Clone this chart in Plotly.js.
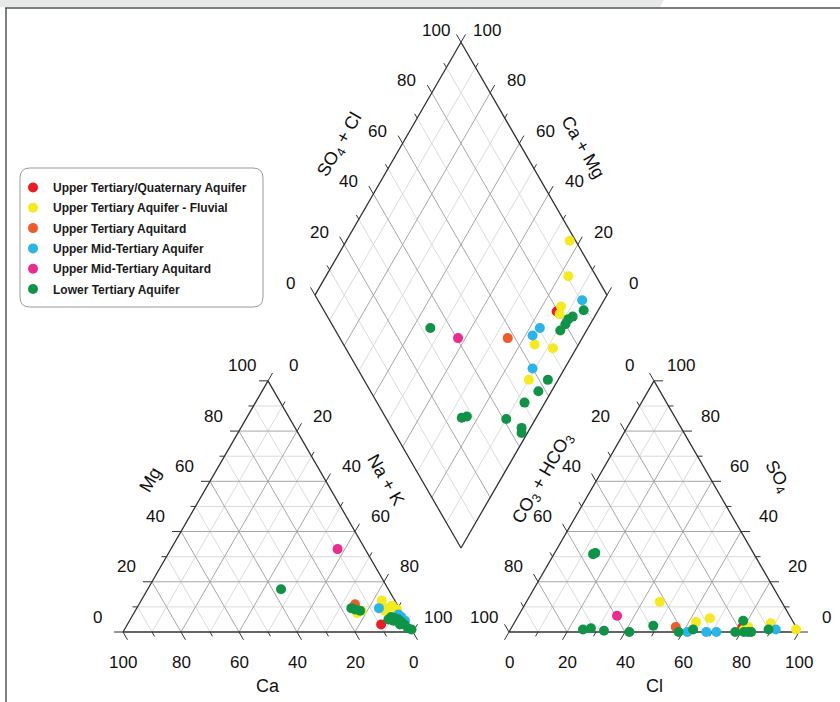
<!DOCTYPE html>
<html><head><meta charset="utf-8">
<script src="https://cdn.plot.ly/plotly-3.0.1.min.js"></script>
<style>html,body{margin:0;padding:0;background:#fff}#chart{width:840px;height:702px}</style>
</head><body><div id="chart"></div>
<script>
// ---------------- DATA ----------------
const seriesNames = ["Upper Tertiary/Quaternary Aquifer","Upper Tertiary Aquifer - Fluvial","Upper Tertiary Aquitard","Upper Mid-Tertiary Aquifer","Upper Mid-Tertiary Aquitard","Lower Tertiary Aquifer"];
const seriesColors = ["#ed1c24","#f5ea1c","#f15a29","#29b5e8","#ec2a8f","#0f9447"];
const tickValues = [0,20,40,60,80,100];

// Cation triangle (% meq): Ca, Mg, Na+K
const cationSeries = [0, 1,1,1,1,1,1,1, 2, 3,3,3,3, 4, 5,5,5,5,5,5,5,5,5,5,5,5,5,5];
const cationCa  = [9.5, 13.5,4.5,4,1,2,5.5,15.5, 14.5, 7,1.5,1,0.5, 9.5, 37,16.5,15.5,14,4.5,3.5,2.5,2,1.5,1,0,4.5,3,6];
const cationMg  = [3, 8.5,12.5,9.5,9,10.5,8.5,7.5, 11, 9.5,7,6,4.5, 33, 17,9.5,9,8.5,6,5.5,5,4,3,1.5,1,4.5,3,5];
const cationNaK = [87.5, 78,83,86.5,90,87.5,86,77, 74.5, 83.5,91.5,93,95, 57.5, 46,74,75.5,77.5,89.5,91,92.5,94,95.5,97.5,99,91,94,89];

// Anion triangle (% meq): CO3+HCO3, SO4, Cl
const anionSeries = [0, 1,1,1,1,1,1,1, 2, 3,3,3,3, 4, 5,5,5,5,5,5,5,5,5,5,5,5,5,5,5];
const anionHCO3 = [18.5, 42,33.5,28,16.5,8,0.5,18.5, 41.5, 38.5,32,28.5,7.5, 59.5, 74,71,67,58.5,49,41.5,36,22,17,19,17.5,16.5,10,55.5,54.5];
const anionSO4  = [2, 12,4,5.5,2,3.5,1,1, 2, 0,0,0,1, 6.5, 1,1.5,0.5,0,2.5,0,1,0,4.5,0,0,0,1,31,31.5];
const anionCl   = [79.5, 46,62.5,66.5,81.5,88.5,98.5,80.5, 56.5, 61.5,68,71.5,91.5, 34, 25,27.5,32.5,41.5,48.5,58.5,63,78,78.5,81,82.5,83.5,89,13.5,14];

// Diamond (%): Ca+Mg, SO4+Cl
const diamondSeries = [0, 1,1,1,1,1,1,1, 2, 3,3,3,3, 4, 5,5,5,5,5,5,5,5,5,5,5,5,5,5];
const diamondCaMg  = [14, 23.5,17,13.5,12.5,15,8,10, 25.5, 7.5,16.5,17.5,11, 42.5, 5,8.5,8.5,9,54,3.5,4.5,7,25.5,24,10,3,2,7.5];
const diamondSO4Cl = [79.5, 98,90.5,82,80,65.5,71,56.5, 57.5, 90.5,70.5,66.5,60, 40.5, 89,82,80,77,33,63,57.5,50.5,26,28,41,44.5,43.5,84];

// ---------------- GEOMETRY ----------------
const FONT = "Arial, 'Liberation Sans', sans-serif";
const SIDE = 290, HT = SIDE*Math.sqrt(3)/2;
function makeTri(x0,y0){ return {A:[x0,y0], B:[x0+SIDE/2,y0-HT], C:[x0+SIDE,y0]}; }
const triLeft = makeTri(123,632);   // A=Ca, B=Mg, C=Na+K
const triRight = makeTri(509,632);  // A=CO3+HCO3, B=SO4, C=Cl
function tern(T,a,b,c){ const s=a+b+c; return [(T.A[0]*a+T.B[0]*b+T.C[0]*c)/s,(T.A[1]*a+T.B[1]*b+T.C[1]*c)/s]; }
const DSIDE = 292, DH = DSIDE*Math.sqrt(3)/2;
const DB = [461,548], DL=[DB[0]-DSIDE/2,DB[1]-DH], DR=[DB[0]+DSIDE/2,DB[1]-DH], DT=[DB[0],DB[1]-2*DH];
function dia(c,s){ return [DB[0]+s/100*(DR[0]-DB[0])+c/100*(DL[0]-DB[0]), DB[1]+s/100*(DR[1]-DB[1])+c/100*(DL[1]-DB[1])]; }

const minor={x:[],y:[]}, major={x:[],y:[]}, edges={x:[],y:[]}, ticks={x:[],y:[]};
function seg(o,p,q){ o.x.push(p[0],q[0],null); o.y.push(p[1],q[1],null); }
function poly(o,pts){ pts.forEach(p=>{o.x.push(p[0]);o.y.push(p[1]);}); o.x.push(null); o.y.push(null); }

function triGrid(T){
  for(let v=10; v<100; v+=10){
    const g = (v%20===0)?major:minor;
    seg(g, tern(T,v,0,100-v), tern(T,v,100-v,0));
    seg(g, tern(T,100-v,v,0), tern(T,0,v,100-v));
    seg(g, tern(T,100-v,0,v), tern(T,0,100-v,v));
  }
  poly(edges,[T.A,T.B,T.C,T.A]);
}
triGrid(triLeft); triGrid(triRight);
for(let v=10; v<100; v+=10){
  const g = (v%20===0)?major:minor;
  seg(g, dia(0,v), dia(100,v));
  seg(g, dia(v,0), dia(v,100));
}
poly(edges,[DB,DR,DT,DL,DB]);

const annotations = [];
function label(x,y,text,size,angle){
  annotations.push({x:x,y:y,xref:'x',yref:'y',text:text,showarrow:false,xanchor:'center',yanchor:'middle',
    textangle:angle||0,font:{family:FONT,size:size,color:'#111'}});
}
function axisTicks(pointFn, dir, off){
  for(let v=0; v<=100; v+=10){
    const p = pointFn(v), len = (v%20===0)?9:5;
    seg(ticks,p,[p[0]+dir[0]*len,p[1]+dir[1]*len]);
  }
  tickValues.forEach(v=>{ const p=pointFn(v); label(p[0]+off[0],p[1]+off[1],String(v),17); });
}
const c60=0.5, s60=Math.sqrt(3)/2;
// left triangle
axisTicks(v=>tern(triLeft,v,0,100-v), [c60,s60], [0,30]);        // Ca
axisTicks(v=>tern(triLeft,100-v,v,0), [-1,0], [-26,-15]);         // Mg
axisTicks(v=>tern(triLeft,0,100-v,v), [c60,-s60], [25,-15]);      // Na+K
// right triangle
axisTicks(v=>tern(triRight,100-v,0,v), [-c60,s60], [0,30]);       // Cl
axisTicks(v=>tern(triRight,v,100-v,0), [-c60,-s60], [-25,-15]);   // CO3+HCO3
axisTicks(v=>tern(triRight,0,v,100-v), [1,0], [27,-15]);          // SO4
// diamond
axisTicks(v=>dia(100,v), [-c60,-s60], [-25,-12]);                 // SO4+Cl
axisTicks(v=>dia(v,100), [c60,-s60], [26,-12]);                   // Ca+Mg

// axis titles
label(150,480,"Mg",18,-60);
label(386,480,"Na + K",18,60);
label(268,686,"Ca",18,0);
label(543,478,"CO<sub>3</sub> + HCO<sub>3</sub>",18,-60);
label(777,476,"SO<sub>4</sub>",18,60);
label(654,686,"Cl",18,0);
label(340,145,"SO<sub>4</sub> + Cl",18,-60);
label(583,147,"Ca + Mg",18,60);

const traces = [
  {x:minor.x,y:minor.y,mode:'lines',line:{color:'#dadada',width:1},hoverinfo:'skip',showlegend:false},
  {x:major.x,y:major.y,mode:'lines',line:{color:'#a6a6a6',width:1},hoverinfo:'skip',showlegend:false},
  {x:edges.x,y:edges.y,mode:'lines',line:{color:'#333',width:1.3},hoverinfo:'skip',showlegend:false},
  {x:ticks.x,y:ticks.y,mode:'lines',line:{color:'#333',width:1},hoverinfo:'skip',showlegend:false}
];
seriesNames.forEach((name,g)=>{
  const xs=[], ys=[];
  cationSeries.forEach((s,i)=>{ if(s===g){ const p=tern(triLeft,cationCa[i],cationMg[i],cationNaK[i]); xs.push(p[0]); ys.push(p[1]); }});
  anionSeries.forEach((s,i)=>{ if(s===g){ const p=tern(triRight,anionHCO3[i],anionSO4[i],anionCl[i]); xs.push(p[0]); ys.push(p[1]); }});
  diamondSeries.forEach((s,i)=>{ if(s===g){ const p=dia(diamondCaMg[i],diamondSO4Cl[i]); xs.push(p[0]); ys.push(p[1]); }});
  traces.push({x:xs,y:ys,mode:'markers',type:'scatter',name:'<b>'+name+'</b>',legendgroup:'g'+g,
    marker:{size:10,color:seriesColors[g],line:{width:0}}});
});

function roundRect(x0,y0,x1,y1,r){
  return `M${x0+r},${y0} L${x1-r},${y0} Q${x1},${y0} ${x1},${y0+r} L${x1},${y1-r} Q${x1},${y1} ${x1-r},${y1} L${x0+r},${y1} Q${x0},${y1} ${x0},${y1-r} L${x0},${y0+r} Q${x0},${y0} ${x0+r},${y0} Z`;
}
const shapes = [
  {type:'path',xref:'x',yref:'y',path:'M0,0 L664,0 L660,7 L0,7 Z',fillcolor:'#e7e9e8',line:{width:0},layer:'below'},
  {type:'line',xref:'x',yref:'y',x0:5,y0:8,x1:840,y1:8,line:{color:'#555',width:1.5}},
  {type:'line',xref:'x',yref:'y',x0:6,y0:8,x1:6,y1:702,line:{color:'#555',width:1.5}},
  {type:'path',xref:'x',yref:'y',path:roundRect(20,168,263,307,10),fillcolor:'#fff',line:{color:'#999',width:1},layer:'below'}
];

const layout = {
  width:840,height:702,margin:{l:0,r:0,t:0,b:0,pad:0},autosize:false,
  paper_bgcolor:'#fff',plot_bgcolor:'rgba(0,0,0,0)',
  xaxis:{range:[0,840],visible:false,fixedrange:true},
  yaxis:{range:[702,0],visible:false,fixedrange:true},
  showlegend:true,
  legend:{x:13/840,y:1-173/702,xanchor:'left',yanchor:'top',bgcolor:'rgba(0,0,0,0)',borderwidth:0,
    font:{family:FONT,size:12,color:'#1a1a1a'},tracegroupgap:1.3},
  annotations:annotations,shapes:shapes
};
Plotly.newPlot('chart',traces,layout,{displayModeBar:false,staticPlot:true});
</script></body></html>
